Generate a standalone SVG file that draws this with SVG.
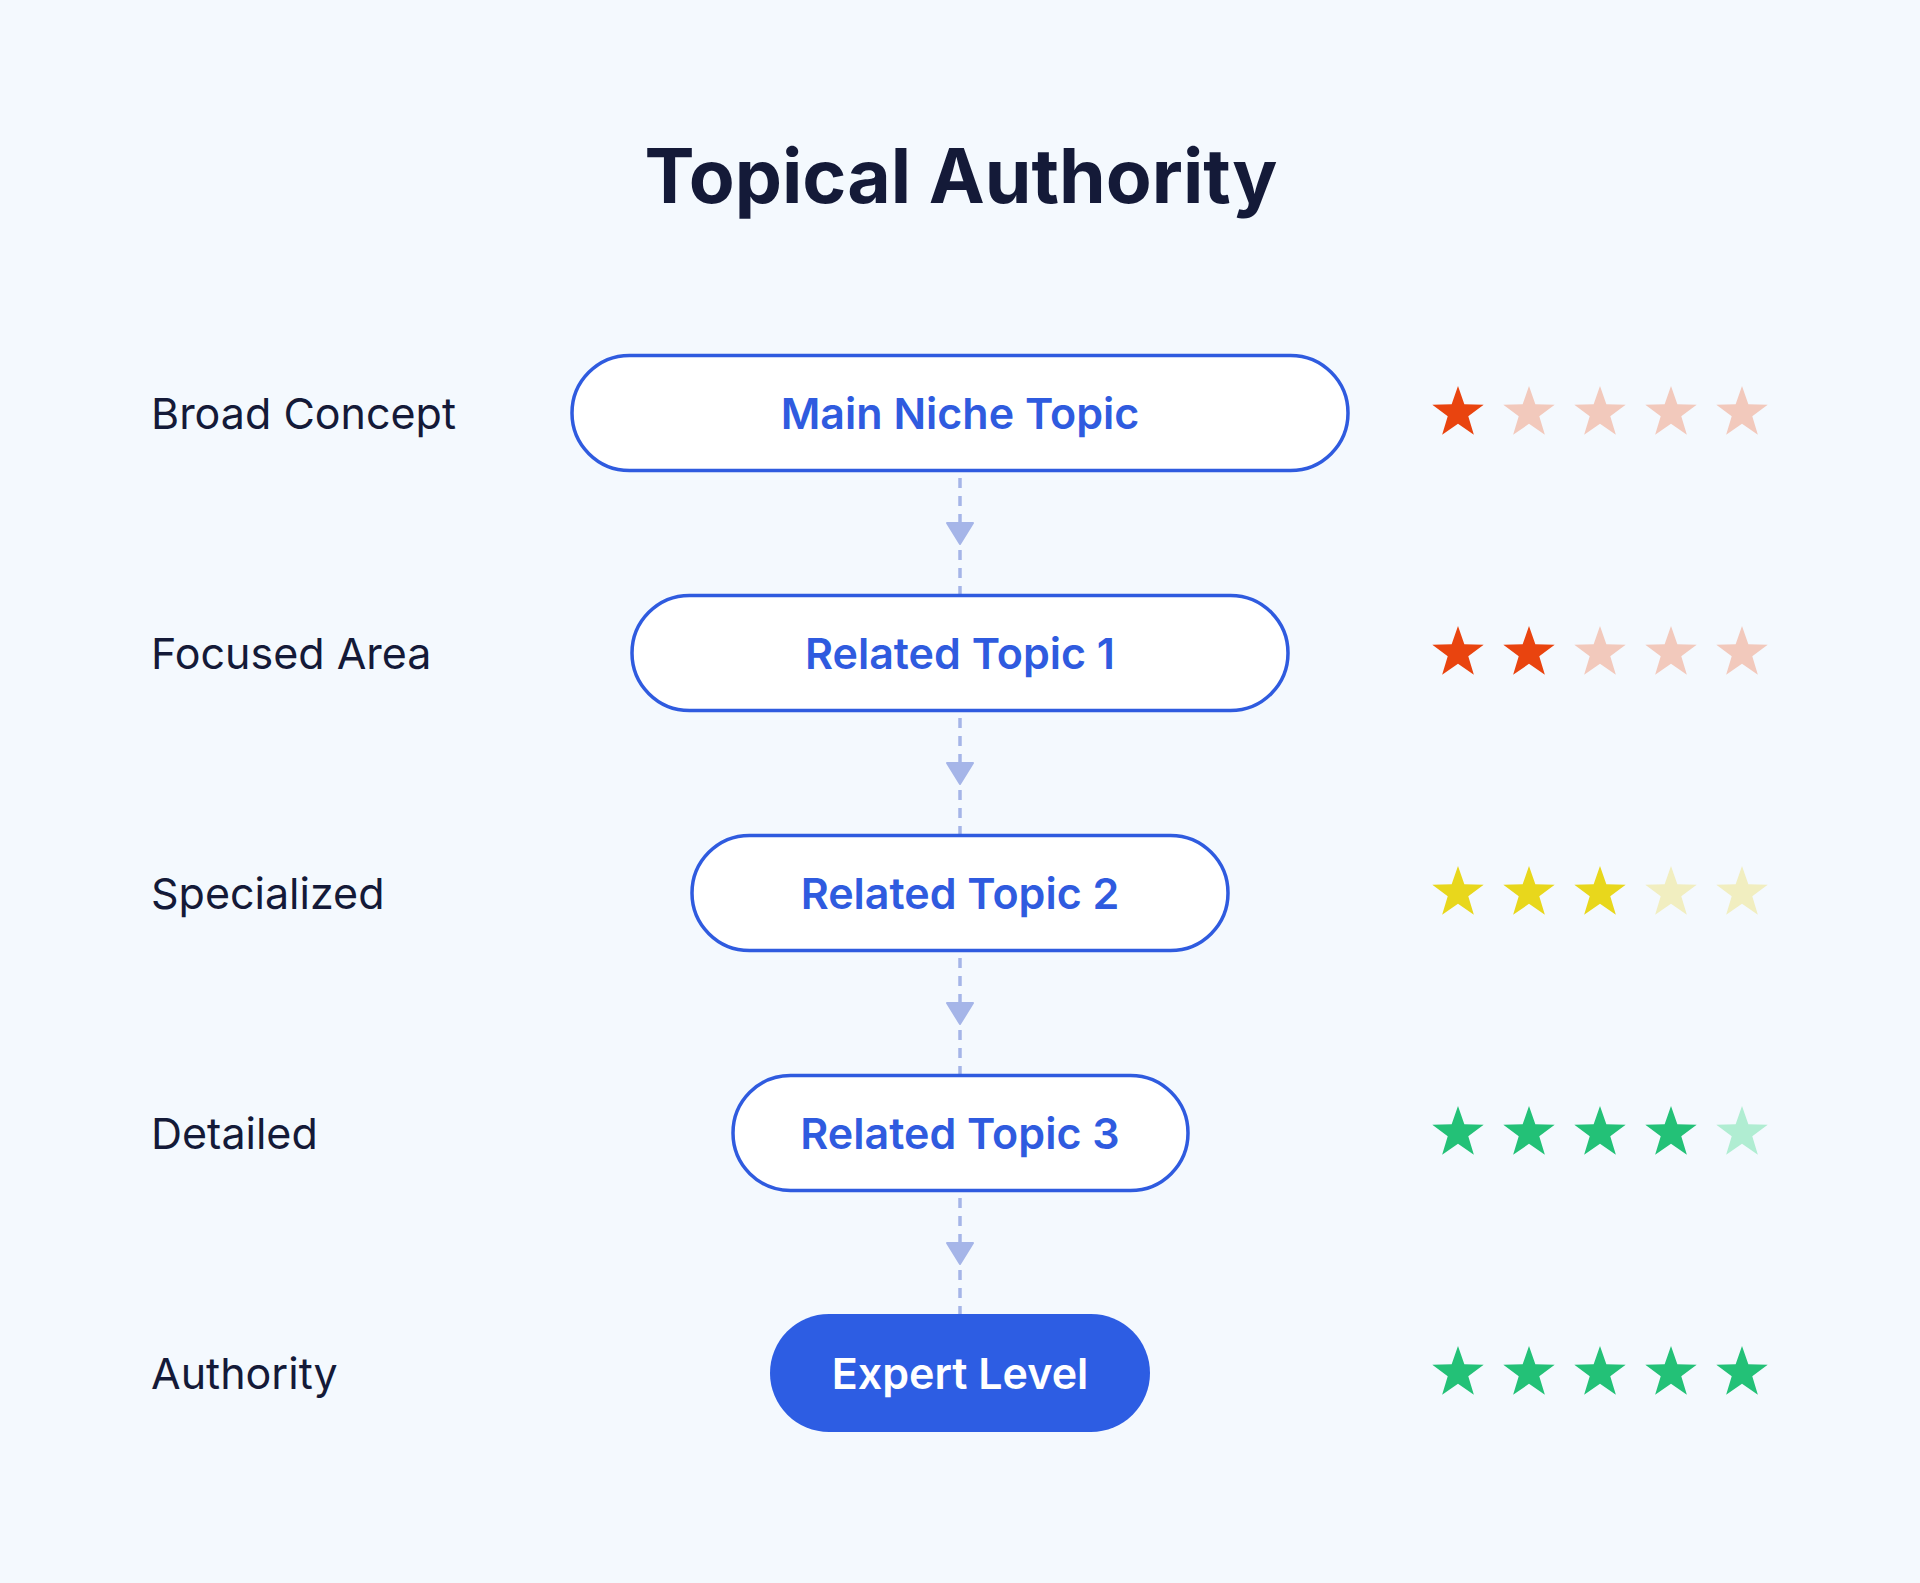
<svg xmlns="http://www.w3.org/2000/svg" xmlns:xlink="http://www.w3.org/1999/xlink" width="1920" height="1583" viewBox="0 0 1920 1583">
<style>
.bg{fill:#F4F9FE}
.title{font-family:Inter,"Liberation Sans",sans-serif;font-weight:700;font-size:75px;fill:#141A38;text-anchor:middle}
.lbl{font-family:Inter,"Liberation Sans",sans-serif;font-weight:400;font-size:43px;fill:#141A38}
.node rect{fill:#FFFFFF;stroke:#2F5BDF;stroke-width:3.5}
.node text{font-family:Inter,"Liberation Sans",sans-serif;font-weight:600;font-size:43px;fill:#2F5BDF;text-anchor:middle}
.node.final rect{fill:#2D5DE3;stroke:none}
.node.final text{fill:#FFFFFF}
.conn{fill:none;stroke:#A5B5E8;stroke-width:3.5;stroke-dasharray:10 8}
.ah{fill:#A5B5E8;stroke:#A5B5E8;stroke-width:2;stroke-linejoin:round}
.r1{fill:#E9440F}.r0{fill:#F2C9BC}
.y1{fill:#E8D71C}.y0{fill:#F1EEC0}
.g1{fill:#23C177}.g0{fill:#B0EDD2}
</style>
<defs>
<path id="star" d="M0,-27 L6.35,-8.74 L25.68,-8.34 L10.28,3.34 L15.87,21.84 L0,10.8 L-15.87,21.84 L-10.28,3.34 L-25.68,-8.34 L-6.35,-8.74 Z"/>
</defs>
<rect class="bg" x="0" y="0" width="1920" height="1583"/>
<text class="title" x="961" y="203">Topical Authority</text>

<g id="labels">
<text class="lbl" x="151" y="429">Broad Concept</text>
<text class="lbl" x="151" y="669">Focused Area</text>
<text class="lbl" x="151" y="909">Specialized</text>
<text class="lbl" x="151" y="1149">Detailed</text>
<text class="lbl" x="151" y="1389">Authority</text>
</g>

<g id="connectors">
<path class="conn" d="M960,478 V595"/>
<polygon class="ah" points="947,523 973,523 960,544"/>
<path class="conn" d="M960,718 V835"/>
<polygon class="ah" points="947,763 973,763 960,784"/>
<path class="conn" d="M960,958 V1075"/>
<polygon class="ah" points="947,1003 973,1003 960,1024"/>
<path class="conn" d="M960,1198 V1314"/>
<polygon class="ah" points="947,1243 973,1243 960,1264"/>
</g>

<g id="node-main" class="node">
<rect x="572" y="355.5" width="776" height="115" rx="57.5"/>
<text x="960" y="429">Main Niche Topic</text>
</g>
<g id="node-related1" class="node">
<rect x="632" y="595.5" width="656" height="115" rx="57.5"/>
<text x="960" y="669">Related Topic 1</text>
</g>
<g id="node-related2" class="node">
<rect x="692" y="835.5" width="536" height="115" rx="57.5"/>
<text x="960" y="909">Related Topic 2</text>
</g>
<g id="node-related3" class="node">
<rect x="733" y="1075.5" width="455" height="115" rx="57.5"/>
<text x="960" y="1149">Related Topic 3</text>
</g>
<g id="node-expert" class="node final">
<rect x="770" y="1314" width="380" height="118" rx="59"/>
<text x="960" y="1389">Expert Level</text>
</g>

<g id="stars-1">
<use xlink:href="#star" x="1458" y="413" class="r1"/>
<use xlink:href="#star" x="1529" y="413" class="r0"/>
<use xlink:href="#star" x="1600" y="413" class="r0"/>
<use xlink:href="#star" x="1671" y="413" class="r0"/>
<use xlink:href="#star" x="1742" y="413" class="r0"/>
</g>
<g id="stars-2">
<use xlink:href="#star" x="1458" y="653" class="r1"/>
<use xlink:href="#star" x="1529" y="653" class="r1"/>
<use xlink:href="#star" x="1600" y="653" class="r0"/>
<use xlink:href="#star" x="1671" y="653" class="r0"/>
<use xlink:href="#star" x="1742" y="653" class="r0"/>
</g>
<g id="stars-3">
<use xlink:href="#star" x="1458" y="893" class="y1"/>
<use xlink:href="#star" x="1529" y="893" class="y1"/>
<use xlink:href="#star" x="1600" y="893" class="y1"/>
<use xlink:href="#star" x="1671" y="893" class="y0"/>
<use xlink:href="#star" x="1742" y="893" class="y0"/>
</g>
<g id="stars-4">
<use xlink:href="#star" x="1458" y="1133" class="g1"/>
<use xlink:href="#star" x="1529" y="1133" class="g1"/>
<use xlink:href="#star" x="1600" y="1133" class="g1"/>
<use xlink:href="#star" x="1671" y="1133" class="g1"/>
<use xlink:href="#star" x="1742" y="1133" class="g0"/>
</g>
<g id="stars-5">
<use xlink:href="#star" x="1458" y="1373" class="g1"/>
<use xlink:href="#star" x="1529" y="1373" class="g1"/>
<use xlink:href="#star" x="1600" y="1373" class="g1"/>
<use xlink:href="#star" x="1671" y="1373" class="g1"/>
<use xlink:href="#star" x="1742" y="1373" class="g1"/>
</g>
</svg>
